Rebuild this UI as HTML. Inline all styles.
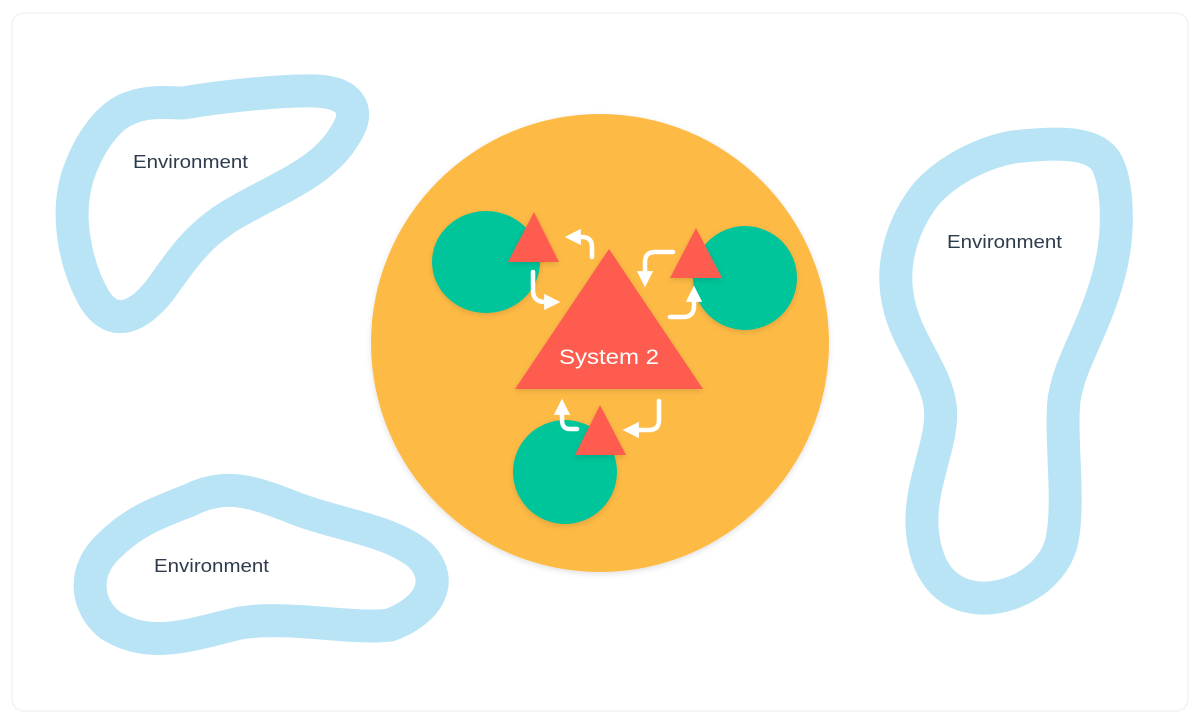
<!DOCTYPE html>
<html><head><meta charset="utf-8"><style>
html,body{margin:0;padding:0;background:#fff;}
svg{display:block;}
text{font-family:"Liberation Sans",sans-serif;}
</style></head><body>
<svg width="1200" height="723" viewBox="0 0 1200 723" xmlns="http://www.w3.org/2000/svg">
<defs>
<filter id="sh" x="-20%" y="-20%" width="140%" height="140%"><feDropShadow dx="0" dy="2" stdDeviation="3" flood-color="#000" flood-opacity="0.12"/></filter>
<marker id="ah" viewBox="0 0 10 10" refX="3" refY="5" markerWidth="3.6" markerHeight="3.6" orient="auto"><path d="M0,0 L10,5 L0,10 z" fill="#fff"/></marker>
</defs>
<rect x="12" y="13" width="1176" height="698" rx="12" fill="#fff" stroke="#f2f2f2" stroke-width="1.5"/>
<g fill="none" stroke="#b9e4f5" stroke-width="33" stroke-linejoin="round" stroke-linecap="round">
<path d="M183,103 C230,95 290,90 315,91 C350,92 362,110 345,135 C325,170 285,185 240,210 C200,232 185,255 160,290 C140,315 115,330 95,300 C75,265 65,215 78,175 C90,140 110,115 130,108 C150,100 170,103 183,103 Z"/>
<path d="M190,500 C230,480 260,495 300,510 C340,525 390,530 420,555 C445,580 430,610 390,625 C350,630 290,615 240,623 C190,635 150,650 110,625 C85,605 82,570 110,545 C135,520 160,512 190,500 Z"/>
<path d="M1013,147 C1050,143 1090,140 1105,160 C1118,180 1120,230 1110,270 C1095,330 1070,360 1064,400 C1060,440 1070,500 1062,540 C1055,575 1015,600 980,598 C945,596 925,570 922,527 C920,480 945,440 940,405 C935,370 905,340 898,300 C890,260 905,220 927,193 C950,168 985,152 1013,147 Z"/>
</g>
<text x="133" y="168" font-size="18" fill="#2e3b4c" textLength="115" lengthAdjust="spacingAndGlyphs">Environment</text>
<text x="947" y="248" font-size="18" fill="#2e3b4c" textLength="115" lengthAdjust="spacingAndGlyphs">Environment</text>
<text x="154" y="572" font-size="18" fill="#2e3b4c" textLength="115" lengthAdjust="spacingAndGlyphs">Environment</text>

<circle cx="600" cy="343" r="229" fill="#fdba45" filter="url(#sh)"/>
<ellipse cx="486" cy="262" rx="54" ry="51" fill="#00c49a" filter="url(#sh)"/>
<ellipse cx="745" cy="278" rx="52" ry="52" fill="#00c49a" filter="url(#sh)"/>
<ellipse cx="565" cy="472" rx="52" ry="52" fill="#00c49a" filter="url(#sh)"/>
<g fill="#fd5c4f" filter="url(#sh)">
<polygon points="609,249 703,389 515,389"/>
<polygon points="534,212 559,262 508,262"/>
<polygon points="696,228 722,278 670,278"/>
<polygon points="600,405 626,455 575,455"/>
</g>
<text x="559" y="364" font-size="21" fill="#fff" textLength="100" lengthAdjust="spacingAndGlyphs">System 2</text>
<g fill="none" stroke="#fff" stroke-width="4.5" stroke-linecap="round" marker-end="url(#ah)">
<path d="M592,257 L592,247 Q592,237 582,237 L576,237"/>
<path d="M533,272 L533,290 Q533,302 545,302 L549,302"/>
<path d="M673,252 L655,252 Q645,252 645,262 L645,276"/>
<path d="M670,317 L683,317 Q694,317 694,306 L694,297"/>
<path d="M577,429 L570,429 Q562,429 562,420 L562,410"/>
<path d="M659,401 L659,420 Q659,430 649,430 L634,430"/>
</g>
</svg>
</body></html>
